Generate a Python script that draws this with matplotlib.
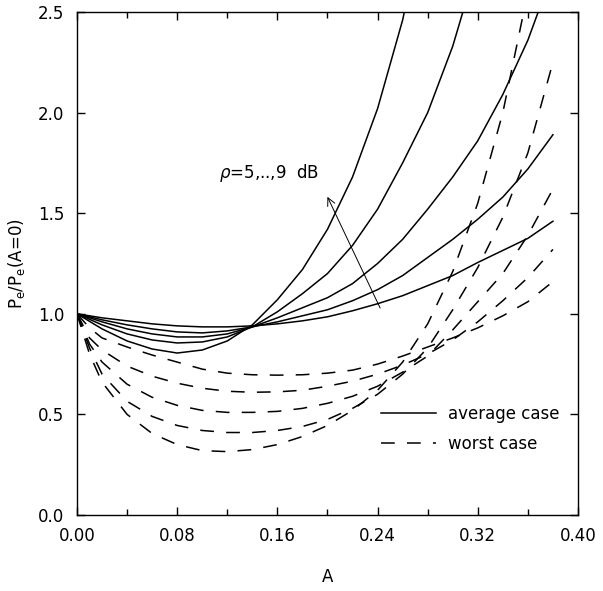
import numpy as np
import matplotlib
matplotlib.use("Agg")
import matplotlib.pyplot as plt
from matplotlib.ticker import MultipleLocator

# amplitude grid (A) for the average-case curves
a_avg = [0.00, 0.02, 0.04, 0.06, 0.08, 0.10, 0.12, 0.14, 0.16, 0.18,
         0.20, 0.22, 0.24, 0.26, 0.28, 0.30, 0.32, 0.34, 0.36, 0.38]
nan = np.nan
# average case, rho = 5..9 dB
avg_5db = [1.0, 0.98, 0.965, 0.95, 0.94, 0.935, 0.935, 0.94, 0.95, 0.965,
           0.985, 1.015, 1.05, 1.09, 1.14, 1.19, 1.255, 1.315, 1.375, 1.46]
avg_6db = [1.0, 0.97, 0.945, 0.925, 0.91, 0.905, 0.915, 0.935, 0.96, 0.99,
           1.02, 1.065, 1.12, 1.19, 1.28, 1.37, 1.47, 1.58, 1.72, 1.89]
avg_7db = [1.0, 0.96, 0.925, 0.90, 0.885, 0.885, 0.90, 0.935, 0.98, 1.03,
           1.08, 1.15, 1.25, 1.37, 1.52, 1.68, 1.86, 2.09, 2.36, 2.70]
avg_8db = [1.0, 0.945, 0.90, 0.87, 0.855, 0.86, 0.885, 0.935, 1.01, 1.10,
           1.20, 1.34, 1.52, 1.75, 2.00, 2.33, 2.75, nan, nan, nan]
avg_9db = [1.0, 0.925, 0.865, 0.825, 0.805, 0.82, 0.865, 0.945, 1.07, 1.22,
           1.42, 1.68, 2.02, 2.46, 3.05, nan, nan, nan, nan, nan]

# amplitude grid for the worst-case curves
a_worst = [0.00, 0.01, 0.02, 0.04, 0.06, 0.08, 0.10, 0.12, 0.14, 0.16, 0.18,
           0.20, 0.22, 0.24, 0.26, 0.28, 0.30, 0.32, 0.34, 0.36, 0.38]
worst_5db = [1.0, 0.93, 0.88, 0.835, 0.795, 0.76, 0.725, 0.705, 0.697, 0.695, 0.697,
             0.705, 0.72, 0.75, 0.79, 0.835, 0.88, 0.93, 0.99, 1.06, 1.16]
worst_6db = [1.0, 0.88, 0.82, 0.74, 0.69, 0.655, 0.63, 0.615, 0.61, 0.612, 0.62,
             0.64, 0.665, 0.70, 0.745, 0.80, 0.87, 0.96, 1.065, 1.18, 1.32]
worst_7db = [1.0, 0.85, 0.76, 0.65, 0.585, 0.545, 0.52, 0.51, 0.51, 0.515, 0.53,
             0.555, 0.59, 0.64, 0.71, 0.79, 0.92, 1.06, 1.20, 1.39, 1.62]
worst_8db = [1.0, 0.83, 0.70, 0.565, 0.49, 0.445, 0.42, 0.41, 0.41, 0.42, 0.44,
             0.475, 0.53, 0.60, 0.70, 0.83, 1.02, 1.23, 1.48, 1.80, 2.25]
worst_9db = [1.0, 0.80, 0.66, 0.50, 0.405, 0.35, 0.32, 0.315, 0.325, 0.35, 0.39,
             0.445, 0.52, 0.62, 0.76, 0.95, 1.21, 1.55, 2.0, 2.6, nan]

xticks = [0.00, 0.08, 0.16, 0.24, 0.32, 0.40]
xticklabels = ["0.00", "0.08", "0.16", "0.24", "0.32", "0.40"]
yticks = [0.0, 0.5, 1.0, 1.5, 2.0, 2.5]
yticklabels = ["0.0", "0.5", "1.0", "1.5", "2.0", "2.5"]

plt.rcParams['font.family'] = ['DejaVu Sans']
fig = plt.figure(figsize=(6.03, 5.91), dpi=100)
ax = fig.add_axes([0.1277, 0.1286, 0.8308, 0.8511])

lw = 1.1
for i, y in enumerate([avg_5db, avg_6db, avg_7db, avg_8db, avg_9db]):
    ax.plot(a_avg, y, color='black', lw=lw,
            label='average case' if i == 0 else None)
for i, y in enumerate([worst_5db, worst_6db, worst_7db, worst_8db, worst_9db]):
    ax.plot(a_worst, y, color='black', lw=lw, dashes=(9, 8),
            label='worst case' if i == 0 else None)

# rho arrow and label
ax.annotate('', xy=(0.199, 1.594), xytext=(0.243, 1.016),
            arrowprops=dict(arrowstyle='->', lw=0.7, color='black', mutation_scale=14))
ax.text(0.113, 1.70, r'$\rho$=5,..,9  dB', fontsize=12, va='center')

ax.set_xlim(0, 0.40)
ax.set_ylim(0, 2.5)
ax.set_xticks(xticks)
ax.set_xticklabels(xticklabels)
ax.set_yticks(yticks)
ax.set_yticklabels(yticklabels)
ax.xaxis.set_minor_locator(MultipleLocator(0.04))
ax.tick_params(which='both', direction='in', top=True, right=True, labelsize=12, width=1)
ax.tick_params(which='major', length=6, pad=9)
ax.tick_params(which='minor', length=4)
for s in ax.spines.values():
    s.set_linewidth(1.0)

ax.set_xlabel('A', fontsize=12, labelpad=16)
ax.set_ylabel(r'P$_\mathrm{e}$/P$_\mathrm{e}$(A=0)', fontsize=12, labelpad=8)

ax.legend(loc='center left', bbox_to_anchor=(0.6075, 0.171), frameon=False,
          fontsize=12, handlelength=3.3, handletextpad=0.7, labelspacing=0.7,
          borderpad=0, borderaxespad=0)

fig.savefig('out.png', dpi=100)
